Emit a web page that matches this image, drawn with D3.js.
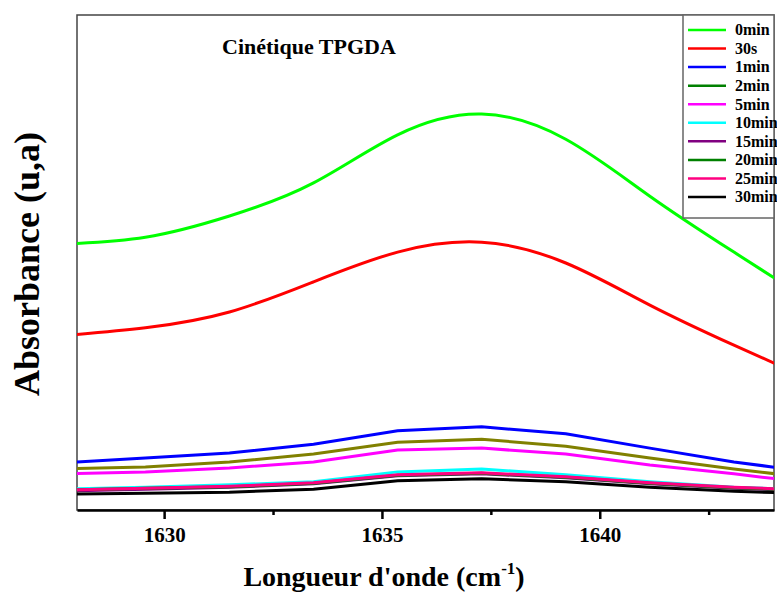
<!DOCTYPE html>
<html>
<head>
<meta charset="utf-8">
<script src="https://cdn.jsdelivr.net/npm/d3@7"></script>
<style>
  body { margin: 0; background: white; }
  text { font-family: "Liberation Serif", "Times New Roman", serif; font-weight: bold; }
</style>
</head>
<body>
<script>
// wavenumbers (cm-1) of the sampled points
const wavenumbers = [1627.64, 1629.57, 1631.50, 1633.43, 1635.36, 1637.29, 1639.22, 1641.15, 1643.08, 1645.01]

const seriesNames = ["0min", "30s", "1min", "2min", "5min", "10min", "15min", "20min", "25min", "30min"]

const abs0min  = [0.537, 0.551, 0.594, 0.661, 0.758, 0.800, 0.749, 0.634, 0.521, 0.412]
const abs30s   = [0.352, 0.368, 0.400, 0.461, 0.521, 0.541, 0.499, 0.414, 0.333, 0.257]
const abs1min  = [0.095, 0.105, 0.115, 0.133, 0.160, 0.168, 0.154, 0.125, 0.097, 0.075]
const abs2min  = [0.083, 0.087, 0.097, 0.113, 0.137, 0.143, 0.129, 0.105, 0.083, 0.063]
const abs5min  = [0.073, 0.077, 0.085, 0.097, 0.121, 0.125, 0.113, 0.091, 0.073, 0.053]
const abs10min = [0.042, 0.046, 0.051, 0.057, 0.077, 0.083, 0.071, 0.057, 0.046, 0.040]
const abs15min = [0.038, 0.042, 0.046, 0.053, 0.069, 0.073, 0.065, 0.053, 0.044, 0.038]
const abs20min = [0.040, 0.044, 0.047, 0.054, 0.070, 0.074, 0.066, 0.054, 0.045, 0.039]
const abs25min = [0.040, 0.044, 0.048, 0.055, 0.071, 0.075, 0.067, 0.055, 0.046, 0.040]
const abs30min = [0.032, 0.034, 0.036, 0.042, 0.059, 0.063, 0.057, 0.046, 0.038, 0.032]

const allSeries = [abs0min, abs30s, abs1min, abs2min, abs5min, abs10min, abs15min, abs20min, abs25min, abs30min]

const majorTicks = [1630, 1635, 1640]
const minorTicks = [1632.5, 1637.5, 1642.5]

const lineColors   = ["#00ff00", "#ff0000", "#0000ff", "#808000", "#ff00ff", "#00ffff", "#800080", "#008000", "#ff0080", "#000000"]
const legendColors = ["#00ff00", "#ff0000", "#0000ff", "#008000", "#ff00ff", "#00ffff", "#800080", "#008000", "#ff0080", "#000000"]

const W = 777, H = 593
const pl = 77, pr = 774, pt = 15, pb = 510

const svg = d3.select("body")
              .append("svg")
              .attr("width", W)
              .attr("height", H)

const xscale = d3.scaleLinear()
                 .domain([1628, 1644])
                 .range([pl, pr])

const yscale = d3.scaleLinear()
                 .domain([0, 1])
                 .range([pb, pt])

svg.append("clipPath")
   .attr("id", "plotclip")
   .append("rect")
   .attr("x", pl)
   .attr("y", pt)
   .attr("width", pr - pl)
   .attr("height", pb - pt)

// frame
svg.append("rect")
   .attr("x", pl)
   .attr("y", pt)
   .attr("width", pr - pl)
   .attr("height", pb - pt)
   .attr("fill", "none")
   .attr("stroke", "#444")
   .attr("stroke-width", 1.5)

const line = d3.line()
               .x((d, i) => xscale(wavenumbers[i]))
               .y(d => yscale(d))

const smooth = d3.line()
                 .x((d, i) => xscale(wavenumbers[i]))
                 .y(d => yscale(d))
                 .curve(d3.curveNatural)

const curves = svg.append("g").attr("clip-path", "url(#plotclip)")

curves.selectAll("path")
      .data(allSeries)
      .enter()
      .append("path")
      .attr("d", (d, i) => i < 2 ? smooth(d) : line(d))
      .attr("fill", "none")
      .attr("stroke", (d, i) => lineColors[i])
      .attr("stroke-width", 3)

// bottom axis
const axisx = svg.append("g")
                 .attr("transform", "translate(0," + pb + ")")
                 .call(d3.axisBottom(xscale).tickValues(majorTicks).tickFormat(d3.format("d"))
                         .tickSize(9).tickPadding(8).tickSizeOuter(0))
axisx.select(".domain").attr("stroke", "#000").attr("stroke-width", 2.5)
axisx.selectAll(".tick line").attr("stroke-width", 2.5)
axisx.selectAll(".tick text")
     .attr("font-size", "21px")
     .attr("font-family", "Liberation Serif, serif")
     .attr("font-weight", "bold")
     .attr("fill", "#000")

const minor = svg.append("g")
                 .attr("transform", "translate(0," + pb + ")")
                 .call(d3.axisBottom(xscale).tickValues(minorTicks).tickSize(5).tickFormat("").tickSizeOuter(0))
minor.select(".domain").remove()
minor.selectAll(".tick line").attr("stroke-width", 2.5)

// titles
svg.append("text")
   .attr("x", 222)
   .attr("y", 54)
   .attr("font-size", "22px")
   .text("Cinétique TPGDA")

const xt = svg.append("text")
              .attr("x", 384)
              .attr("y", 586)
              .attr("text-anchor", "middle")
              .attr("font-size", "28px")
xt.append("tspan").text("Longueur d'onde (cm")
xt.append("tspan").attr("font-size", "17px").attr("dy", -12).text("-1")
xt.append("tspan").attr("dy", 12).text(")")

svg.append("text")
   .attr("transform", "translate(39,264) rotate(-90)")
   .attr("text-anchor", "middle")
   .attr("font-size", "36px")
   .text("Absorbance (u,a)")

// legend
const legend = svg.append("g")

legend.append("rect")
      .attr("x", 683)
      .attr("y", pt)
      .attr("width", pr - 683)
      .attr("height", 218 - pt)
      .attr("fill", "white")
      .attr("stroke", "#666")
      .attr("stroke-width", 1.5)

const rowy = d3.scalePoint()
               .domain(seriesNames)
               .range([30, 197])

const rows = legend.selectAll("g.row")
                   .data(seriesNames)
                   .enter()
                   .append("g")
                   .attr("class", "row")
                   .attr("transform", d => "translate(0," + rowy(d) + ")")

rows.append("line")
    .attr("x1", 688)
    .attr("x2", 726)
    .attr("stroke", (d, i) => legendColors[i])
    .attr("stroke-width", 2.5)

rows.append("text")
    .attr("x", 735)
    .attr("dy", "0.33em")
    .attr("font-size", "16px")
    .text(d => d)
</script>
</body>
</html>
